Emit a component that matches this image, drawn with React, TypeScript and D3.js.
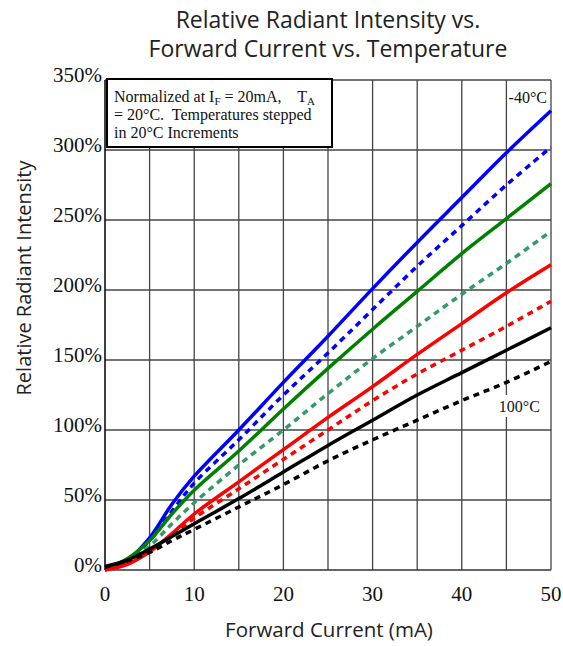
import { useEffect, useRef } from "react"
import * as d3 from "d3"

const current = [0, 2.5, 5, 7.5, 10, 15, 20, 25, 30, 35, 40, 45, 50]

const minus40 = [0, 7, 23, 47, 67, 100, 134, 167, 201, 234, 266, 298, 328]
const minus20 = [1, 7, 21, 42, 62, 93, 125, 155, 186, 217, 246, 275, 302]
const zero = [1, 8, 21, 40, 57, 85, 115, 144, 172, 199, 226, 251, 276]
const plus20 = [1, 6, 17, 33, 48, 75, 100, 126, 151, 174, 197, 219, 242]
const plus40 = [0, 4, 13, 26, 40, 63, 86, 109, 131, 154, 176, 198, 218]
const plus60 = [0, 5, 13, 25, 37, 58, 79, 100, 121, 140, 157, 174, 192]
const plus80 = [2.5, 7, 15, 24, 33, 51, 70, 89, 107, 125, 141, 157, 173]
const plus100 = [2, 6.5, 12.5, 21, 29, 45, 61, 78, 93, 107, 121, 134, 149]

const xTicks = [0, 10, 20, 30, 40, 50]
const yTicks = [0, 50, 100, 150, 200, 250, 300, 350]

const series = [
  { name: "-40", values: minus40, color: "#0000ff", dashed: false },
  { name: "-20", values: minus20, color: "#0000ff", dashed: true },
  { name: "0", values: zero, color: "#008000", dashed: false },
  { name: "20", values: plus20, color: "#339966", dashed: true },
  { name: "40", values: plus40, color: "#ff0000", dashed: false },
  { name: "60", values: plus60, color: "#ff0000", dashed: true },
  { name: "80", values: plus80, color: "#000000", dashed: false },
  { name: "100", values: plus100, color: "#000000", dashed: true },
]

export default function App() {
  const svgRef = useRef<SVGSVGElement>(null)

  useEffect(() => {
    if (!svgRef.current) return
    document.body.style.margin = "0"

    const width = 563
    const height = 646
    const margin = { top: 80, right: 12, bottom: 76, left: 105 }

    const svg = d3.select(svgRef.current).attr("width", width).attr("height", height)
    svg.selectAll("*").remove()

    const x = d3.scaleLinear().domain([0, 50]).range([margin.left, width - margin.right])
    const y = d3.scaleLinear().domain([0, 350]).range([height - margin.bottom, margin.top])

    const serif = "'Liberation Serif', 'Times New Roman', serif"
    const sans = "'Open Sans', 'Noto Sans', sans-serif"

    // grid
    const grid = svg.append("g").attr("stroke", "#444").attr("stroke-width", 1.3)
    d3.range(5, 50, 5).forEach((v) => {
      grid.append("line").attr("x1", x(v)).attr("x2", x(v)).attr("y1", y(0)).attr("y2", y(350))
    })
    d3.range(50, 351, 50).forEach((v) => {
      grid.append("line").attr("x1", x(0)).attr("x2", x(50)).attr("y1", y(v)).attr("y2", y(v))
    })
    grid.append("line").attr("x1", x(50)).attr("x2", x(50)).attr("y1", y(0)).attr("y2", y(350))

    // axes lines
    svg
      .append("line")
      .attr("x1", x(0))
      .attr("x2", x(0))
      .attr("y1", y(0))
      .attr("y2", y(350))
      .attr("stroke", "#000")
      .attr("stroke-width", 1.5)
    svg
      .append("line")
      .attr("x1", x(0))
      .attr("x2", x(50))
      .attr("y1", y(0))
      .attr("y2", y(0))
      .attr("stroke", "#333")
      .attr("stroke-width", 1.5)

    // curves
    const line = d3
      .line<number>()
      .x((_, i) => x(current[i]))
      .y((d) => y(d))
      .curve(d3.curveCatmullRom.alpha(0.5))

    series.forEach((s) => {
      svg
        .append("path")
        .datum(s.values)
        .attr("fill", "none")
        .attr("stroke", s.color)
        .attr("stroke-width", 3.5)
        .attr("stroke-dasharray", s.dashed ? "6,5" : null)
        .attr("d", line)
    })

    // tick labels
    svg
      .append("g")
      .selectAll("text")
      .data(yTicks)
      .join("text")
      .attr("x", x(0) - 3)
      .attr("y", (d) => y(d) + 2)
      .attr("text-anchor", "end")
      .attr("font-family", serif)
      .attr("font-size", 21)
      .attr("fill", "#111")
      .text((d) => `${d}%`)

    svg
      .append("g")
      .selectAll("text")
      .data(xTicks)
      .join("text")
      .attr("x", (d) => x(d))
      .attr("y", y(0) + 31)
      .attr("text-anchor", "middle")
      .attr("font-family", serif)
      .attr("font-size", 21)
      .attr("fill", "#111")
      .text((d) => d)

    // note box
    const box = svg.append("g")
    box
      .append("rect")
      .attr("x", x(0) + 2)
      .attr("y", y(350) - 1)
      .attr("width", 225)
      .attr("height", 68)
      .attr("fill", "#fff")
      .attr("stroke", "#000")
      .attr("stroke-width", 2)
    const note = box
      .append("text")
      .attr("font-family", serif)
      .attr("font-size", 16)
      .attr("fill", "#111")
      .style("white-space", "pre")
    const l1 = note.append("tspan").attr("x", x(0) + 9).attr("y", y(350) + 22)
    l1.append("tspan").text("Normalized at I")
    l1.append("tspan").attr("font-size", 11).attr("dy", 3).text("F")
    l1.append("tspan").attr("dy", -3).text(" = 20mA,    T")
    l1.append("tspan").attr("font-size", 11).attr("dy", 3).text("A")
    note.append("tspan").attr("x", x(0) + 9).attr("y", y(350) + 40).text("= 20°C.  Temperatures stepped")
    note.append("tspan").attr("x", x(0) + 9).attr("y", y(350) + 58).text("in 20°C Increments")

    // series labels
    svg
      .append("text")
      .attr("x", x(50) - 4)
      .attr("y", y(350) + 23)
      .attr("text-anchor", "end")
      .attr("font-family", serif)
      .attr("font-size", 16)
      .attr("fill", "#111")
      .text("-40°C")
    svg
      .append("rect")
      .attr("x", x(45) - 20)
      .attr("y", y(100) - 35)
      .attr("width", 42)
      .attr("height", 22)
      .attr("fill", "#fff")
    svg
      .append("text")
      .attr("x", x(45) + 13)
      .attr("y", y(100) - 18)
      .attr("text-anchor", "middle")
      .attr("font-family", serif)
      .attr("font-size", 16)
      .attr("fill", "#111")
      .text("100°C")

    // titles
    const title = svg
      .append("text")
      .attr("text-anchor", "middle")
      .attr("font-family", sans)
      .attr("font-size", 23)
      .attr("fill", "#222")
    title.append("tspan").attr("x", 328).attr("y", 28).text("Relative Radiant Intensity vs.")
    title.append("tspan").attr("x", 328).attr("y", 57).text("Forward Current vs. Temperature")

    svg
      .append("text")
      .attr("x", 329)
      .attr("y", 637)
      .attr("text-anchor", "middle")
      .attr("font-family", sans)
      .attr("font-size", 20.5)
      .attr("fill", "#222")
      .text("Forward Current (mA)")

    svg
      .append("text")
      .attr("transform", `translate(31,${278}) rotate(-90)`)
      .attr("text-anchor", "middle")
      .attr("font-family", sans)
      .attr("font-size", 20)
      .attr("fill", "#222")
      .text("Relative Radiant Intensity")
  }, [])

  return <svg ref={svgRef} style={{ display: "block" }} />
}
